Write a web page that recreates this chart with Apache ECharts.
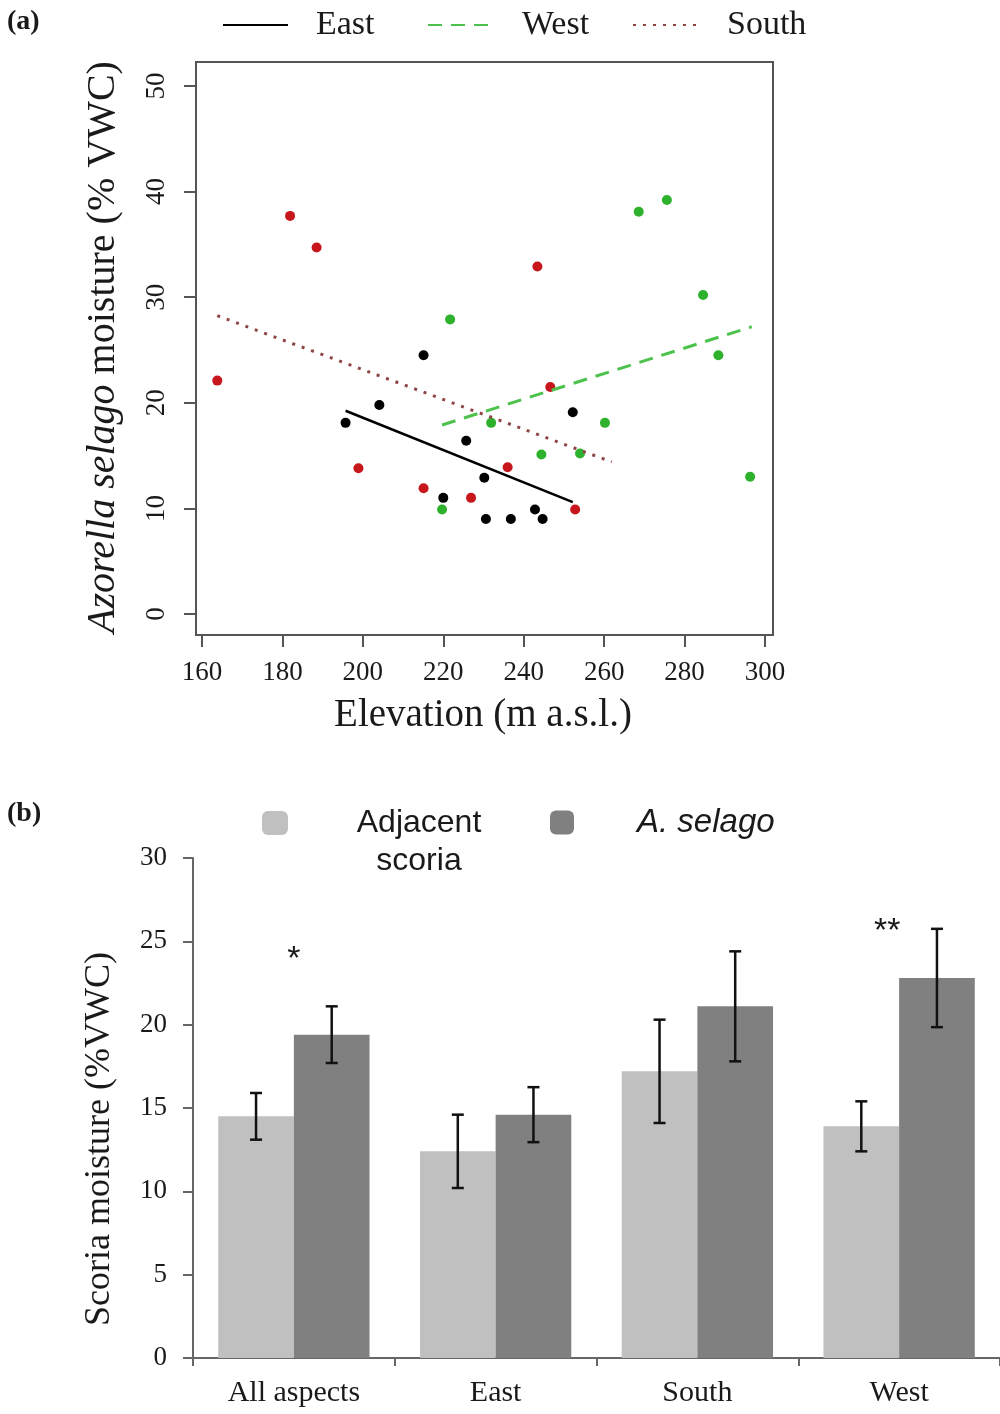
<!DOCTYPE html>
<html>
<head>
<meta charset="utf-8">
<script src="https://cdn.jsdelivr.net/npm/echarts@6/dist/echarts.min.js"></script>
<style>
  html, body { margin: 0; padding: 0; background: #fff; }
  #chart { width: 1000px; height: 1414px; }
</style>
</head>
<body>
<div id="chart"></div>
<script>
// ---------- Panel (a): cushion moisture against elevation, per slope aspect ----------
// [elevation (m a.s.l.), moisture (% VWC)]
const eastPoints = [[195.7, 18.1], [204.1, 19.8], [215.1, 24.5], [220.0, 11.0], [225.7, 16.4], [230.2, 12.9],
                    [230.6, 9.0], [236.8, 9.0], [242.8, 9.9], [244.7, 9.0], [252.2, 19.1]];
const westPoints = [[219.7, 9.9], [221.7, 27.9], [231.9, 18.1], [244.4, 15.1], [254.0, 15.2], [260.2, 18.1],
                    [268.6, 38.1], [275.6, 39.2], [284.6, 30.2], [288.4, 24.5], [296.3, 13.0]];
const southPoints = [[163.8, 22.1], [181.9, 37.7], [188.5, 34.7], [198.9, 13.8], [215.1, 11.9], [226.9, 11.0],
                     [236.0, 13.9], [243.4, 32.9], [246.6, 21.5], [252.8, 9.9]];
// fitted regression lines (start and end points)
const eastFit = [[195.7, 19.25], [252.2, 10.6]];
const westFit = [[219.7, 17.9], [296.7, 27.2]];
const southFit = [[163.8, 28.25], [261.9, 14.4]];

// ---------- Panel (b): scoria moisture next to and under cushions ----------
const aspects = ['All aspects', 'East', 'South', 'West'];
const adjacentMean = [14.5, 12.4, 17.2, 13.9];
const adjacentErr = [1.4, 2.2, 3.1, 1.5];
const selagoMean = [19.4, 14.6, 21.1, 22.8];
const selagoErr = [1.7, 1.65, 3.3, 2.95];
const signif = ['*', '', '', '**'];
const signifAt = [23.9, null, null, 25.6];

const SERIF = "'Liberation Serif', 'Times New Roman', serif";
const SANS = "'Liberation Sans', Arial, sans-serif";
const INK = '#1a1a1a';
const AXIS = '#555';

function errorBars(side) {
  return function (params, api) {
    const i = api.value(0), m = api.value(1), e = api.value(2);
    const catW = api.size([1, 0])[0];
    const off = side * catW * 0.75 / 4;
    const top = api.coord([i, m + e]);
    const bot = api.coord([i, m - e]);
    const x = top[0] + off;
    const cap = 6;
    const st = { stroke: '#111', lineWidth: 2.5 };
    return {
      type: 'group',
      children: [
        { type: 'line', shape: { x1: x, y1: top[1], x2: x, y2: bot[1] }, style: st },
        { type: 'line', shape: { x1: x - cap, y1: top[1], x2: x + cap, y2: top[1] }, style: st },
        { type: 'line', shape: { x1: x - cap, y1: bot[1], x2: x + cap, y2: bot[1] }, style: st }
      ]
    };
  };
}

const lineLegend = (name, left, pad) => ({
  data: [name], left: left, top: 8, padding: 0, selectedMode: false,
  itemWidth: 65, itemHeight: 14, itemStyle: { opacity: 0 },
  textStyle: { fontFamily: SERIF, fontSize: 34, color: INK, padding: [0, 0, 0, pad] }
});

const chart = echarts.init(document.getElementById('chart'));
chart.setOption({
  backgroundColor: '#fff',
  animation: false,
  textStyle: { fontFamily: SERIF, color: INK },
  grid: [
    // frame of panel (a)
    { left: 196, top: 62, width: 577, height: 573, show: true, borderColor: AXIS, borderWidth: 2, backgroundColor: 'transparent' },
    // data area of panel (a)
    { left: 202, top: 86, width: 563, height: 528 },
    // panel (b)
    { left: 193, top: 858, width: 812, height: 500 }
  ],
  xAxis: [
    { gridIndex: 0, type: 'value', min: 0, max: 1, show: false },
    {
      gridIndex: 1, type: 'value', min: 160, max: 300, interval: 20, offset: 21,
      axisLine: { show: false, onZero: false },
      axisTick: { show: true, length: 12, lineStyle: { color: AXIS, width: 2 } },
      axisLabel: { fontFamily: SERIF, fontSize: 27, color: INK, margin: 24 },
      splitLine: { show: false }
    },
    {
      gridIndex: 2, type: 'category', data: aspects,
      axisLine: { lineStyle: { color: '#666', width: 2 } },
      axisTick: { show: true, length: 8, alignWithLabel: false, lineStyle: { color: '#666', width: 2 } },
      axisLabel: { fontFamily: SERIF, fontSize: 30, color: INK, margin: 20 }
    }
  ],
  yAxis: [
    { gridIndex: 0, type: 'value', min: 0, max: 1, show: false },
    {
      gridIndex: 1, type: 'value', min: 0, max: 50, interval: 10, offset: 6,
      axisLine: { show: false, onZero: false },
      axisTick: { show: true, length: 12, lineStyle: { color: AXIS, width: 2 } },
      axisLabel: { fontFamily: SERIF, fontSize: 27, color: INK, rotate: 90, margin: 26 },
      splitLine: { show: false }
    },
    {
      gridIndex: 2, type: 'value', min: 0, max: 30, interval: 5,
      axisLine: { show: true, lineStyle: { color: '#666', width: 2 } },
      axisTick: { show: true, length: 10, lineStyle: { color: '#666', width: 2 } },
      axisLabel: { fontFamily: SERIF, fontSize: 27, color: INK, margin: 26 },
      splitLine: { show: false }
    }
  ],
  legend: [
    lineLegend('East', 222, 23),
    lineLegend('West', 427, 24),
    lineLegend('South', 632, 24),
    {
      data: ['Adjacent scoria'], left: 262, top: 807, padding: 0, selectedMode: false,
      icon: 'roundRect', itemWidth: 26, itemHeight: 24,
      formatter: function () { return '{a|Adjacent}\n{a|scoria}'; },
      textStyle: {
        fontFamily: SANS, fontSize: 32, color: INK, padding: [38, 0, 0, 62],
        rich: { a: { fontFamily: SANS, fontSize: 32, color: INK, width: 128, align: 'center', lineHeight: 38 } }
      }
    },
    {
      data: ['A. selago'], left: 550, top: 806, padding: 0, selectedMode: false,
      icon: 'roundRect', itemWidth: 24, itemHeight: 24,
      textStyle: { fontFamily: SANS, fontSize: 33, fontStyle: 'italic', color: INK, padding: [0, 0, 0, 58] }
    }
  ],
  graphic: [
    { type: 'text', x: 7, y: 8, style: { text: '(a)', font: "bold 28px 'Liberation Serif'", fill: INK } },
    { type: 'text', x: 7, y: 800, style: { text: '(b)', font: "bold 28px 'Liberation Serif'", fill: INK } },
    {
      type: 'text', x: 103, y: 347, rotation: Math.PI / 2,
      style: {
        text: '{i|Azorella selago} moisture (% VWC)',
        font: "40px 'Liberation Serif'", fill: INK, align: 'center', verticalAlign: 'middle',
        rich: { i: { fontStyle: 'italic', fontFamily: SERIF, fontSize: 40, fill: INK } }
      }
    },
    {
      type: 'text', x: 483, y: 716,
      style: { text: 'Elevation (m a.s.l.)', font: "39px 'Liberation Serif'", fill: INK, align: 'center', verticalAlign: 'middle' }
    },
    {
      type: 'text', x: 100, y: 1139, rotation: Math.PI / 2,
      style: { text: 'Scoria moisture (%VWC)', font: "36px 'Liberation Serif'", fill: INK, align: 'center', verticalAlign: 'middle' }
    }
  ],
  series: [
    { name: 'East points', type: 'scatter', xAxisIndex: 1, yAxisIndex: 1, data: eastPoints, symbolSize: 10, itemStyle: { color: '#000', opacity: 1 } },
    { name: 'West points', type: 'scatter', xAxisIndex: 1, yAxisIndex: 1, data: westPoints, symbolSize: 10, itemStyle: { color: '#2eb22e', opacity: 1 } },
    { name: 'South points', type: 'scatter', xAxisIndex: 1, yAxisIndex: 1, data: southPoints, symbolSize: 10, itemStyle: { color: '#c8161d', opacity: 1 } },
    {
      name: 'East', type: 'line', xAxisIndex: 1, yAxisIndex: 1, data: eastFit, symbol: 'none',
      itemStyle: { color: '#000' }, lineStyle: { color: '#000', width: 2.5, type: 'solid' }
    },
    {
      name: 'West', type: 'line', xAxisIndex: 1, yAxisIndex: 1, data: westFit, symbol: 'none',
      itemStyle: { color: '#4cc24c' }, lineStyle: { color: '#4cc24c', width: 3, type: [14, 9] }
    },
    {
      name: 'South', type: 'line', xAxisIndex: 1, yAxisIndex: 1, data: southFit, symbol: 'none',
      itemStyle: { color: '#8e4545' }, lineStyle: { color: '#8e4545', width: 3, type: [3, 7] }
    },
    {
      name: 'Adjacent scoria', type: 'bar', xAxisIndex: 2, yAxisIndex: 2, data: adjacentMean,
      barGap: '0%', barCategoryGap: '25%', itemStyle: { color: '#c0c0c0' }
    },
    {
      name: 'A. selago', type: 'bar', xAxisIndex: 2, yAxisIndex: 2, data: selagoMean,
      barGap: '0%', barCategoryGap: '25%', itemStyle: { color: '#808080' }
    },
    {
      name: 'Adjacent scoria SE', type: 'custom', xAxisIndex: 2, yAxisIndex: 2, z: 5,
      data: adjacentMean.map((m, i) => [i, m, adjacentErr[i]]),
      renderItem: errorBars(-1)
    },
    {
      name: 'A. selago SE', type: 'custom', xAxisIndex: 2, yAxisIndex: 2, z: 5,
      data: selagoMean.map((m, i) => [i, m, selagoErr[i]]),
      renderItem: errorBars(1)
    },
    {
      name: 'Significance', type: 'custom', xAxisIndex: 2, yAxisIndex: 2, z: 6,
      data: signifAt.map((v, i) => [i, v == null ? 0 : v]),
      renderItem: function (params, api) {
        const s = signif[params.dataIndex];
        if (!s) return null;
        const p = api.coord([api.value(0), api.value(1)]);
        return {
          type: 'text', x: p[0] - (s.length - 1) * 12, y: p[1],
          style: { text: s, font: "34px 'Liberation Sans'", fill: INK, align: 'center', verticalAlign: 'middle' }
        };
      }
    }
  ]
});
</script>
</body>
</html>
